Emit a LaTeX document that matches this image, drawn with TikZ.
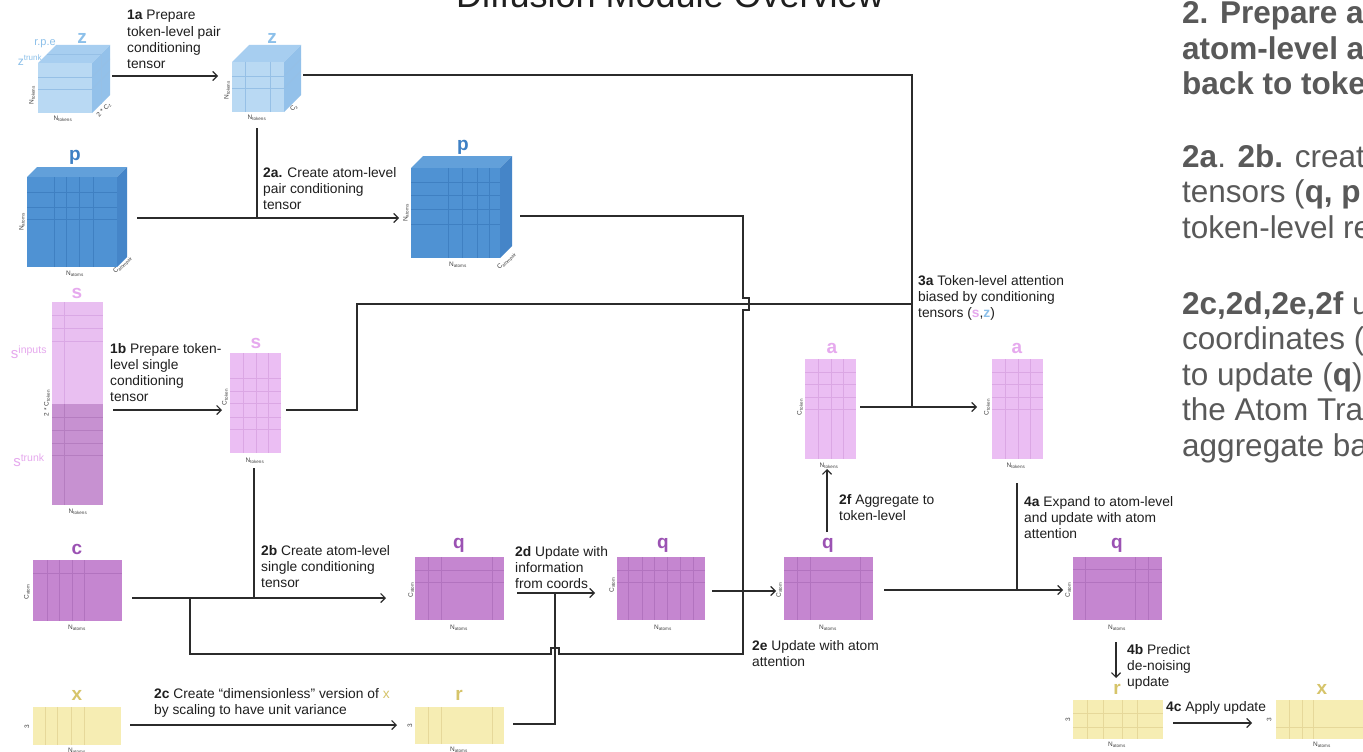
\documentclass[tikz,border=0pt]{standalone}
\usepackage{fontspec}
\setmainfont{Liberation Sans}
\usetikzlibrary{arrows.meta}
\definecolor{zfront}{HTML}{B9D9F3}
\definecolor{ztop}{HTML}{A7CEF0}
\definecolor{zside}{HTML}{93C1EA}
\definecolor{zline}{HTML}{96C0E6}
\definecolor{zlab}{HTML}{8CC0EA}
\definecolor{pfront}{HTML}{4F92D3}
\definecolor{ptop}{HTML}{62A0DA}
\definecolor{pside}{HTML}{4585C8}
\definecolor{pline}{HTML}{3F80C2}
\definecolor{plab}{HTML}{3E80C4}
\definecolor{sin}{HTML}{E9BFF1}
\definecolor{sinl}{HTML}{DAA8E5}
\definecolor{strk}{HTML}{C791D1}
\definecolor{strkl}{HTML}{B57DC0}
\definecolor{slab}{HTML}{E6A9EE}
\definecolor{qfill}{HTML}{C586D0}
\definecolor{qline}{HTML}{B273BF}
\definecolor{qlab}{HTML}{9B52B3}
\definecolor{afill}{HTML}{EBBEF3}
\definecolor{aline}{HTML}{DBA7E4}
\definecolor{yfill}{HTML}{F6EDB3}
\definecolor{yline}{HTML}{E6D89A}
\definecolor{ylab}{HTML}{D6C46A}
\definecolor{conn}{HTML}{2B2B2B}
\definecolor{rtext}{HTML}{595959}
\newcommand\mylb[2]{\parbox[t]{#1}{\raggedright #2}}
\newcommand\tenbox[6]{\node[fill=#6,inner sep=0pt,outer sep=0pt,minimum width={#4-#2},minimum height={#5-#3},anchor=north west] (#1) at (#2,#3) {};}
\newcommand\mycube[9]{%
 \fill[#8] (#2,#3) -- (#2+#6,#3-#6) -- (#4+#6,#3-#6) -- (#4,#3) -- cycle;
 \fill[#9] (#4,#3) -- (#4+#6,#3-#6) -- (#4+#6,#5-#6) -- (#4,#5) -- cycle;
 \tenbox{#1}{#2}{#3}{#4}{#5}{#7}}
\newcommand\vgr[4]{\foreach \g in {#1} {\draw[#4,line width=0.6pt] (\g,#2) -- (\g,#3);}}
\newcommand\hgr[4]{\foreach \g in {#1} {\draw[#4,line width=0.6pt] (#2,\g) -- (#3,\g);}}
\begin{document}
\begin{tikzpicture}[x=1pt,y=-1pt,
 dim/.style={font=\fontsize{6.5}{7}\selectfont, text=black!75, inner sep=0pt},
 tn/.style={font=\fontsize{19}{19}\selectfont\bfseries, inner sep=0pt},
 lbl/.style={font=\fontsize{13.8}{16.3}\selectfont, anchor=base west, inner sep=0pt, text=black!88},
 rt/.style={font=\fontsize{31.5}{35.5}\selectfont, anchor=base west, inner sep=0pt, text=rtext},
 ln/.style={draw=conn, line width=1.2pt},
 ar/.style={ln, -{Straight Barb[length=4.5pt,width=9pt]}}]
\useasboundingbox (0,0) rectangle (1363,752);
\clip (0,0) rectangle (1363,752);
\fill[white] (0,0) rectangle (1363,752);
% title
\node[font=\fontsize{36}{36}\selectfont, text=black!88, anchor=base, inner sep=0pt] (title) at (670,8) {Diffusion Module Overview};
% ---------- z cubes
\mycube{z1}{38}{63}{92}{113}{18}{zfront}{ztop}{zside}
\hgr{77,89}{38}{92}{zline}
\draw[zline,line width=0.6pt] (47,54) -- (101,54) -- (101,104);
\draw[zline,line width=0.6pt] (92,77) -- (110,59) (92,89) -- (110,71);
\node[tn,text=zlab] (nz1) at (82,38) {z};
\node[font=\fontsize{11}{11}\selectfont,text=zlab,inner sep=0pt] (rpe) at (45,44) {r.p.e};
\node[font=\fontsize{12}{12}\selectfont,text=zlab,inner sep=0pt] (ztr) at (30,60) {z\textsuperscript{trunk}};
\node[dim,rotate=90] (dz1a) at (32,95) {N\textsubscript{tokens}};
\node[dim] (dz1b) at (63,119) {N\textsubscript{tokens}};
\node[dim,rotate=45] (dz1c) at (104,110) {2 * C\textsubscript{z}};
\mycube{z2}{232}{62}{284}{112}{17}{zfront}{ztop}{zside}
\hgr{76,88}{232}{284}{zline}
\vgr{245,270}{62}{112}{zline}
\draw[zline,line width=0.6pt] (284,76) -- (301,59) (284,88) -- (301,71);
\node[tn,text=zlab] (nz2) at (272,38) {z};
\node[dim,rotate=90] (dz2a) at (227,90) {N\textsubscript{tokens}};
\node[dim] (dz2b) at (257,118) {N\textsubscript{tokens}};
\node[dim,rotate=45] (dz2c) at (294,108) {C\textsubscript{z}};
% ---------- p cubes
\mycube{p1}{27}{177}{117}{267}{10}{pfront}{ptop}{pside}
\vgr{54,66,79,93}{177}{267}{pline}
\hgr{192,207,219}{27}{117}{pline}
\node[tn,text=plab] (np1) at (75,157) {p};
\node[dim,rotate=90] (dp1a) at (22,222) {N\textsubscript{atoms}};
\node[dim] (dp1b) at (75,274) {N\textsubscript{atoms}};
\node[dim,rotate=45] (dp1c) at (123,265) {C\textsubscript{atompair}};
\mycube{p2}{411}{168}{500}{258}{12}{pfront}{ptop}{pside}
\vgr{448,462,477,489}{168}{258}{pline}
\hgr{182,195,209,224}{411}{500}{pline}
\node[tn,text=plab] (np2) at (463,147) {p};
\node[dim,rotate=90] (dp2a) at (406,213) {N\textsubscript{atoms}};
\node[dim] (dp2b) at (458,265) {N\textsubscript{atoms}};
\node[dim,rotate=45] (dp2c) at (507,261) {C\textsubscript{atompair}};
% ---------- s
\tenbox{s1a}{52}{302}{103}{404}{sin}
\tenbox{s1b}{52}{404}{103}{505}{strk}
\vgr{64}{302}{404}{sinl}
\vgr{64}{404}{505}{strkl}
\hgr{315,328,341}{52}{103}{sinl}
\hgr{417,430,443,455}{52}{103}{strkl}
\node[tn,text=slab] (ns1) at (77,293) {s};
\node[font=\fontsize{15}{15}\selectfont,text=slab,inner sep=0pt] (sinp) at (29,352) {s\textsuperscript{inputs}};
\node[font=\fontsize{15}{15}\selectfont,text=slab,inner sep=0pt] (strn) at (29,460) {s\textsuperscript{trunk}};
\node[dim,rotate=90] (ds1a) at (47,403) {2 * C\textsubscript{token}};
\node[dim] (ds1b) at (78,512) {N\textsubscript{tokens}};
\tenbox{s2}{230}{353}{281}{453}{afill}
\vgr{243,256,268}{353}{453}{aline}
\hgr{378,391,403,417,429}{230}{281}{aline}
\node[tn,text=slab] (ns2) at (256,343) {s};
\node[dim,rotate=90] (ds2a) at (225,397) {C\textsubscript{token}};
\node[dim] (ds2b) at (255,461) {N\textsubscript{tokens}};
% ---------- c
\tenbox{c}{33}{560}{122}{621}{qfill}
\vgr{47,59,72,84}{560}{621}{qline}
\hgr{573}{33}{122}{qline}
\node[tn,text=qlab] (nc) at (77,549) {c};
\node[dim,rotate=90] (dca) at (27,592) {C\textsubscript{atom}};
\node[dim] (dcb) at (77,628) {N\textsubscript{atoms}};
% ---------- x1
\tenbox{x1}{33}{707}{121}{745}{yfill}
\vgr{45,57,71,84}{707}{745}{yline}
\node[tn,text=ylab] (nx1) at (77,695) {x};
\node[dim,rotate=90] (dxa) at (27,727) {3};
\node[dim] (dxb) at (77,751) {N\textsubscript{atoms}};
% ---------- q1, r1
\tenbox{q1}{415}{557}{504}{620}{qfill}
\vgr{428,441,492}{557}{620}{qline}
\hgr{570,582}{415}{504}{qline}
\node[tn,text=qlab] (nq1) at (459,545) {q};
\node[dim,rotate=90] (dq1a) at (411,590) {C\textsubscript{atom}};
\node[dim] (dq1b) at (459,628) {N\textsubscript{atoms}};
\tenbox{r1}{415}{707}{504}{744}{yfill}
\vgr{428,441,492}{707}{744}{yline}
\node[tn,text=ylab] (nr1) at (459,695) {r};
\node[dim,rotate=90] (dr1a) at (410,726) {3};
\node[dim] (dr1b) at (459,750) {N\textsubscript{atoms}};
% ---------- q2, q3
\tenbox{q2}{617}{557}{705}{620}{qfill}
\vgr{628,642,654,667,680,693}{557}{620}{qline}
\hgr{570,582}{617}{705}{qline}
\node[tn,text=qlab] (nq2) at (663,545) {q};
\node[dim,rotate=90] (dq2a) at (612,585) {C\textsubscript{atom}};
\node[dim] (dq2b) at (663,628) {N\textsubscript{atoms}};
\tenbox{q3}{784}{557}{873}{620}{qfill}
\vgr{797,810,860}{557}{620}{qline}
\hgr{570,582}{784}{873}{qline}
\node[tn,text=qlab] (nq3) at (828,545) {q};
\node[dim,rotate=90] (dq3a) at (779,590) {C\textsubscript{atom}};
\node[dim] (dq3b) at (828,628) {N\textsubscript{atoms}};
% ---------- a1, a2
\tenbox{a1}{805}{359}{856}{459}{afill}
\vgr{818,831,843}{359}{459}{aline}
\hgr{372,384,397,409}{805}{856}{aline}
\node[tn,text=slab] (na1) at (832,348) {a};
\node[dim,rotate=90] (da1a) at (800,407) {C\textsubscript{token}};
\node[dim] (da1b) at (829,466) {N\textsubscript{tokens}};
\tenbox{a2}{992}{359}{1043}{459}{afill}
\vgr{1005,1018,1030}{359}{459}{aline}
\hgr{372,384,397,409}{992}{1043}{aline}
\node[tn,text=slab] (na2) at (1017,348) {a};
\node[dim,rotate=90] (da2a) at (987,407) {C\textsubscript{token}};
\node[dim] (da2b) at (1016,466) {N\textsubscript{tokens}};
% ---------- q4, r2, x2
\tenbox{q4}{1073}{557}{1162}{620}{qfill}
\vgr{1085,1135,1148}{557}{620}{qline}
\hgr{569,582}{1073}{1162}{qline}
\node[tn,text=qlab] (nq4) at (1117,545) {q};
\node[dim,rotate=90] (dq4a) at (1068,590) {C\textsubscript{atom}};
\node[dim] (dq4b) at (1117,628) {N\textsubscript{atoms}};
\tenbox{r2}{1073}{700}{1163}{739}{yfill}
\vgr{1087,1103,1122,1137}{700}{739}{yline}
\hgr{713,727}{1073}{1163}{yline}
\node[tn,text=ylab] (nr2) at (1117,689) {r};
\node[dim,rotate=90] (dr2a) at (1068,720) {3};
\node[dim] (dr2b) at (1117,745) {N\textsubscript{atoms}};
\tenbox{x2}{1276}{700}{1375}{739}{yfill}
\vgr{1289,1302,1313}{700}{739}{yline}
\hgr{727}{1276}{1375}{yline}
\node[tn,text=ylab] (nx2) at (1322,689) {x};
\node[dim,rotate=90] (dx2a) at (1269,720) {3};
\node[dim] (dx2b) at (1322,745) {N\textsubscript{atoms}};
% ---------- connectors
\coordinate (c1a0) at (112,76); \coordinate (c1a1) at (218,76);
\draw[ar] (c1a0) -- (c1a1);
\coordinate (zo) at (303,75); \coordinate (zc) at (912,75); \coordinate (ja) at (912,407);
\draw[ln] (zo) -- (zc) -- (ja);
\coordinate (zd) at (257,128); \coordinate (j2a) at (257,218);
\draw[ln] (zd) -- (j2a);
\coordinate (p1o) at (137,218); \coordinate (p2i) at (399,218);
\draw[ar] (p1o) -- (p2i);
\coordinate (p2o) at (520,216); \coordinate (pc) at (743,216); \coordinate (je) at (743,591);
\draw[ln] (p2o) -- (pc) -- (743,298) -- (749,298) -- (749,310) -- (743,310) -- (je);
\coordinate (s1o) at (113,410); \coordinate (s2i) at (222,410);
\draw[ar] (s1o) -- (s2i);
\coordinate (s2o) at (286,410); \coordinate (sb) at (357,410); \coordinate (sc) at (357,304); \coordinate (js) at (912,304);
\draw[ln] (s2o) -- (sb) -- (sc) -- (js);
\coordinate (s2d) at (254,468); \coordinate (j2b) at (254,598);
\draw[ln] (s2d) -- (j2b);
\coordinate (co) at (132,598); \coordinate (q1i) at (386,598);
\draw[ar] (co) -- (q1i);
\coordinate (jc) at (190,598); \coordinate (cb) at (190,654); \coordinate (ce) at (743,654);
\draw[ln] (jc) -- (cb) -- (551,654) -- (551,648) -- (559,648) -- (559,654) -- (ce) -- (je);
\coordinate (x1o) at (130,725); \coordinate (r1i) at (397,725);
\draw[ar] (x1o) -- (r1i);
\coordinate (r1o) at (513,724); \coordinate (rb) at (555,724); \coordinate (jd) at (555,593);
\draw[ln] (r1o) -- (rb) -- (jd);
\coordinate (q1o) at (517,593); \coordinate (q2i) at (595,593);
\draw[ar] (q1o) -- (q2i);
\coordinate (q2o) at (712,591); \coordinate (q3i) at (776,591);
\draw[ar] (q2o) -- (q3i);
\coordinate (q3u) at (827,532); \coordinate (a1d) at (827,469);
\draw[ar] (q3u) -- (a1d);
\coordinate (a1o) at (860,407); \coordinate (a2i) at (977,407);
\draw[ar] (a1o) -- (a2i);
\coordinate (q3o) at (884,590); \coordinate (q4i) at (1063,590);
\draw[ar] (q3o) -- (q4i);
\coordinate (a2d) at (1017,483); \coordinate (j4a) at (1017,590);
\draw[ln] (a2d) -- (j4a);
\coordinate (q4d) at (1116,642); \coordinate (r2u) at (1116,678);
\draw[ar] (q4d) -- (r2u);
\coordinate (r2o) at (1173,723); \coordinate (x2i) at (1252,723);
\draw[ar] (r2o) -- (x2i);
% ---------- labels
\node[lbl] (l1a) at (127,20) {\mylb{140pt}{\textbf{1a} Prepare\\token-level pair\\conditioning\\tensor}};
\node[lbl] (l2a) at (263,177) {\mylb{170pt}{\textbf{2a.} Create atom-level\\pair conditioning\\tensor}};
\node[lbl] (l1b) at (110,353) {\mylb{120pt}{\textbf{1b} Prepare token-\\level single\\conditioning\\tensor}};
\node[lbl] (l2b) at (261,555) {\mylb{170pt}{\textbf{2b} Create atom-level\\single conditioning\\tensor}};
\node[lbl] (l2c) at (154,698) {\mylb{300pt}{\textbf{2c} Create “dimensionless” version of \textcolor{ylab}{x}\\by scaling to have unit variance}};
\node[lbl] (l2d) at (515,556) {\mylb{120pt}{\textbf{2d} Update with\\information\\from coords}};
\node[lbl] (l2e) at (752,650) {\mylb{170pt}{\textbf{2e} Update with atom\\attention}};
\node[lbl] (l3a) at (918,285) {\mylb{200pt}{\textbf{3a} Token-level attention\\biased by conditioning\\tensors (\textcolor{slab}{\textbf{s}},\textcolor{zlab}{\textbf{z}})}};
\node[lbl] (l2f) at (839,504) {\mylb{140pt}{\textbf{2f} Aggregate to\\token-level}};
\node[lbl] (l4a) at (1024,506) {\mylb{200pt}{\textbf{4a} Expand to atom-level\\and update with atom\\attention}};
\node[lbl] (l4b) at (1127,654) {\mylb{120pt}{\textbf{4b} Predict\\de-noising\\update}};
\node[lbl] (l4c) at (1166,711) {\textbf{4c} Apply update};
% ---------- right text
\node[rt] (rt1) at (1182,24) {\mylb{400pt}{\bfseries 2. Prepare a\\atom-level a\\back to toke}};
\node[rt] (rt2) at (1182,167) {\mylb{400pt}{\textbf{2a}. \textbf{2b.} creat\\tensors (\textbf{q, p}\\token-level re}};
\node[rt] (rt3) at (1182,314) {\mylb{400pt}{\textbf{2c,2d,2e,2f} u\\coordinates (\\to update (\textbf{q})\\the Atom Tra\\aggregate ba}};
\end{tikzpicture}
\end{document}
